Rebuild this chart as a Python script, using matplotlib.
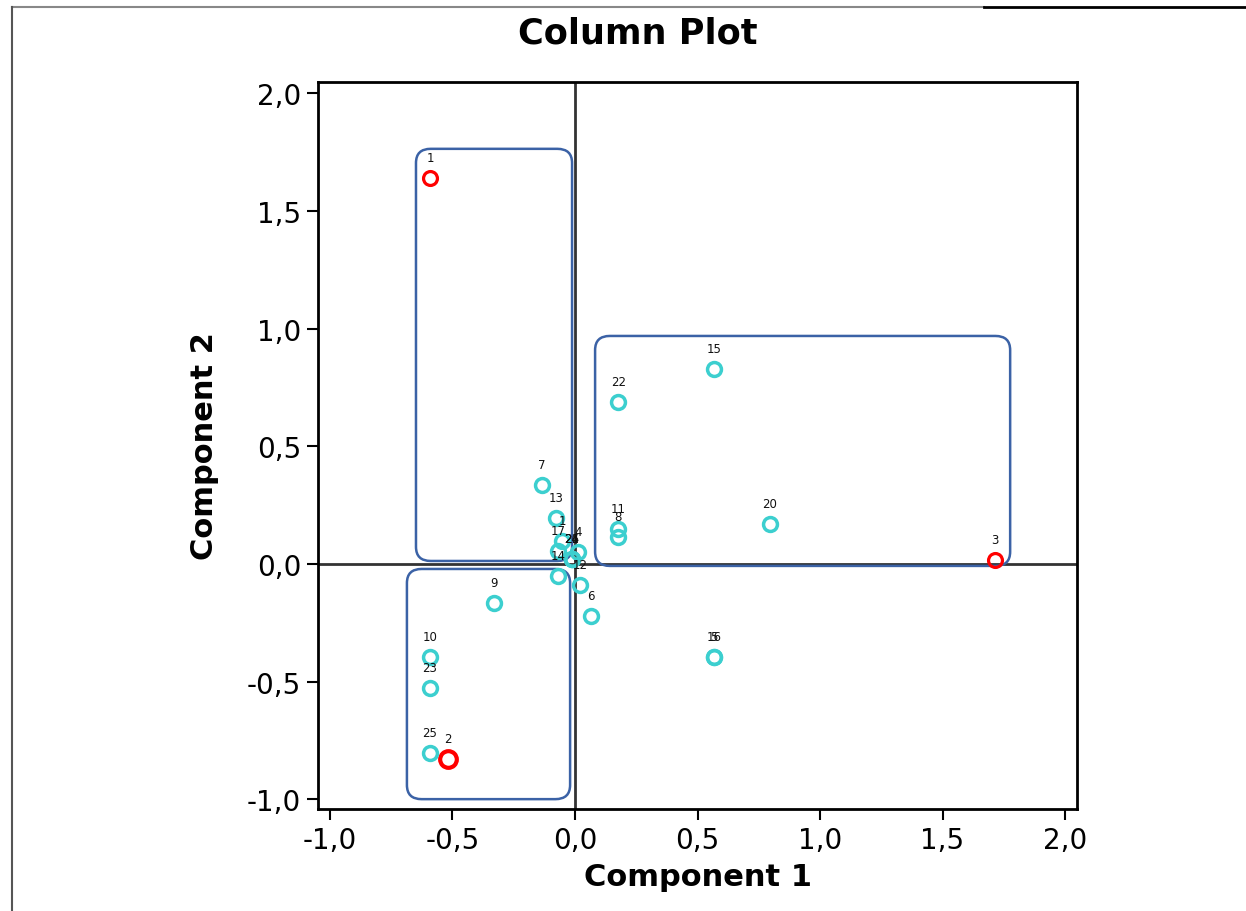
import matplotlib
matplotlib.use("Agg")
import matplotlib.pyplot as plt
from matplotlib.patches import FancyBboxPatch
from matplotlib.ticker import FuncFormatter, MultipleLocator
from matplotlib.lines import Line2D

# ---- data ----
labels = ["1", "2", "3", "4", "5", "6", "7", "8", "9", "10", "11", "12", "13",
          "14", "15", "16", "17", "1", "20", "21", "22", "23", "24", "25", "26"]
comp1 = [-0.592, -0.518, 1.714, 0.012, 0.567, 0.065, -0.135, 0.176, -0.331, -0.592,
         0.176, 0.020, -0.078, -0.069, 0.567, 0.567, -0.069, -0.053, 0.796, -0.012,
         0.176, -0.592, -0.012, -0.592, -0.012]
comp2 = [1.640, -0.829, 0.017, 0.051, -0.395, -0.221, 0.336, 0.115, -0.166, -0.395,
         0.150, -0.089, 0.195, -0.051, 0.829, -0.395, 0.055, 0.098, 0.170, 0.021,
         0.688, -0.527, 0.021, -0.803, 0.021]
highlight = ["1", "2", "3"]  # red points (first three entries)

# groups (rounded rectangles): x0, y0, x1, y1
box_x0 = [-0.649, 0.082, -0.686]
box_y0 = [0.013, -0.008, -0.999]
box_x1 = [-0.012, 1.776, -0.020]
box_y1 = [1.764, 0.969, -0.021]

fig = plt.figure(figsize=(12.46, 9.12), dpi=100)
ax = fig.add_axes([0.2552, 0.1118, 0.6092, 0.7972])
ax.set_xlim(-1.049, 2.049)
ax.set_ylim(-1.041, 2.048)

ax.axvline(0, color="#333333", lw=2, zorder=1)
ax.axhline(0, color="#333333", lw=2, zorder=1)

for x0, y0, x1, y1 in zip(box_x0, box_y0, box_x1, box_y1):
    p = FancyBboxPatch((x0, y0), x1 - x0, y1 - y0,
                       boxstyle="round,pad=0,rounding_size=0.06",
                       fc="none", ec="#3b62a6", lw=1.8, zorder=2)
    ax.add_patch(p)

cyan = "#3ccfcf"
for i, (lab, x, y) in enumerate(zip(labels, comp1, comp2)):
    if i < 3:
        col = "red"
        ms = 12 if i == 1 else 10
        mew = 3 if i == 1 else 2.3
    else:
        col = cyan
        ms = 10
        mew = 2.5
    ax.plot(x, y, "o", mfc="none", mec=col, ms=ms, mew=mew, zorder=4)
    ax.annotate(lab, (x, y), xytext=(0, 10), textcoords="offset points",
                ha="center", va="bottom", fontsize=8.5, color="#111111", zorder=5)

fmt = FuncFormatter(lambda v, p: ("%.1f" % v).replace(".", ","))
ax.xaxis.set_major_locator(MultipleLocator(0.5))
ax.yaxis.set_major_locator(MultipleLocator(0.5))
ax.xaxis.set_major_formatter(fmt)
ax.yaxis.set_major_formatter(fmt)
ax.tick_params(axis="both", which="major", labelsize=20, length=8, width=1.5,
               direction="out", pad=4)
for s in ax.spines.values():
    s.set_linewidth(2)
    s.set_color("black")

ax.set_xlabel("Component 1", fontsize=22, fontweight="bold", labelpad=6)
ax.set_ylabel("Component 2", fontsize=22, fontweight="bold", labelpad=20)
fig.text(0.512, 0.963, "Column Plot", ha="center", va="center",
         fontsize=25.3, fontweight="bold")

# outer frame lines
fig.add_artist(Line2D([0.0096, 0.79], [0.991, 0.991], color="#888888", lw=1.5))
fig.add_artist(Line2D([0.79, 1.0], [0.991, 0.991], color="black", lw=2))
fig.add_artist(Line2D([0.0096, 0.0096], [0.0, 0.991], color="#555555", lw=1.5))

fig.savefig("out.png", dpi=100)
